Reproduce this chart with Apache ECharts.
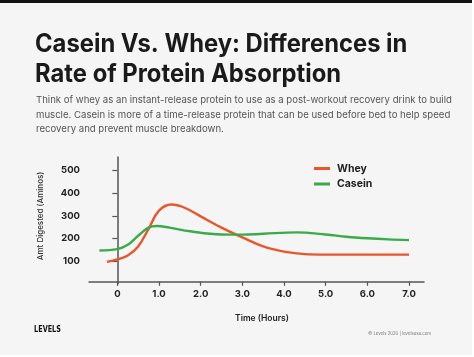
<!DOCTYPE html>
<html><head><meta charset="utf-8">
<script src="https://cdn.jsdelivr.net/npm/echarts@6/dist/echarts.min.js"></script>
<style>html,body{margin:0;padding:0;background:#fff}#c{width:474px;height:357px}</style>
</head><body><div id="c"></div>
<script>
const titleLines = ['Casein Vs. Whey: Differences in', 'Rate of Protein Absorption'];
const subtitleLines = [
  'Think of whey as an instant-release protein to use as a post-workout recovery drink to build',
  'muscle. Casein is more of a time-release protein that can be used before bed to help speed',
  'recovery and prevent muscle breakdown.'
];
const seriesNames = ['Whey', 'Casein'];
const wheyHours  = [-0.25, 0, 0.25, 0.5, 0.75, 1.0, 1.3, 1.6, 2.0, 2.5, 3.0, 3.5, 4.0, 4.5, 5.0, 6.0, 7.0];
const wheyValues = [97, 108, 125, 165, 243, 323, 350, 337, 298, 248, 205, 165, 142, 131, 129, 129, 129];
const caseinHours  = [-0.43, 0, 0.25, 0.5, 0.75, 0.95, 1.25, 1.75, 2.5, 3.0, 3.5, 4.3, 5.0, 5.5, 6.0, 6.5, 7.0];
const caseinValues = [147, 153, 172, 212, 248, 255, 248, 232, 218, 217, 221, 227, 218, 208, 201, 196, 193];
const xTicks = [0, 1, 2, 3, 4, 5, 6, 7];
const yTicks = [100, 200, 300, 400, 500];
const xAxisName = 'Time (Hours)';
const yAxisName = 'Amt Digested (Aminos)';
const footerText = '© Levels 2020 | levelsusa.com';
const logoText = 'LEVELS';

const pair = (xs, ys) => xs.map((x, i) => [x, ys[i]]);
const chart = echarts.init(document.getElementById('c'), null, {renderer: 'canvas'});
const F = 'Inter, "Noto Sans", sans-serif';
chart.setOption({
  backgroundColor: '#f5f5f5',
  animation: false,
  grid: {left: 89, right: 50, top: 157, bottom: 73.2, containLabel: false},
  xAxis: {
    type: 'value', min: -0.68, max: 7.36, offset: -2,
    splitLine: {show: false},
    axisLine: {lineStyle: {color: '#555', width: 1.5}},
    axisTick: {show: true, length: 4, lineStyle: {color: '#555', width: 1.2}, customValues: xTicks},
    axisLabel: {customValues: xTicks, color: '#222', fontWeight: 'bold', fontSize: 9.5, fontFamily: F, margin: 7,
      formatter: v => v === 0 ? '0' : v.toFixed(1)}
  },
  yAxis: {
    type: 'value', min: 0, max: 560,
    splitLine: {show: false},
    axisLine: {show: true, lineStyle: {color: '#555', width: 1.5}},
    axisTick: {show: true, length: 5, lineStyle: {color: '#555', width: 1.2}, customValues: yTicks},
    axisLabel: {customValues: yTicks, color: '#222', fontWeight: 'bold', fontSize: 9.5, fontFamily: F, margin: 9}
  },
  legend: {
    orient: 'vertical', left: 309, top: 158, itemWidth: 16, itemHeight: 3, itemGap: 4.5,
    icon: 'rect',
    textStyle: {color: '#222', fontWeight: 'bold', fontSize: 10.5, fontFamily: F, padding: [0, 0, 0, 2]},
    data: seriesNames
  },
  series: [
    {name: seriesNames[0], type: 'line', smooth: 0.4, showSymbol: false, data: pair(wheyHours, wheyValues),
      itemStyle: {color: '#e8562c'}, lineStyle: {color: '#e8562c', width: 2.4}},
    {name: seriesNames[1], type: 'line', smooth: 0.4, showSymbol: false, data: pair(caseinHours, caseinValues),
      itemStyle: {color: '#3bab4a'}, lineStyle: {color: '#3bab4a', width: 2.4}}
  ],
  graphic: [
    {type: 'rect', shape: {x: 0, y: 0, width: 474, height: 3}, style: {fill: '#111'}},
    {type: 'rect', shape: {x: 472, y: 0, width: 2, height: 357}, style: {fill: '#fff'}},
    {type: 'rect', shape: {x: 0, y: 355, width: 474, height: 2}, style: {fill: '#fff'}},
    {type: 'text', x: 35, y: 29, scaleX: 0.952, style: {text: titleLines.join('\n'), fill: '#1a1a1a', font: 'bold 25px ' + F, lineHeight: 30}},
    {type: 'text', left: 36, top: 93, style: {text: subtitleLines.join('\n'), fill: '#555', font: '9.6px ' + F, lineHeight: 14.5}},
    {type: 'text', x: 262, y: 318, style: {text: xAxisName, fill: '#222', font: '600 8.5px ' + F, align: 'center', verticalAlign: 'middle'}},
    {type: 'text', x: 41, y: 216, rotation: Math.PI / 2, style: {text: yAxisName, fill: '#333', font: '500 8px ' + F, align: 'center', verticalAlign: 'middle'}},
    {type: 'text', x: 431, y: 333.3, style: {text: footerText, fill: '#777', font: '4.3px ' + F, align: 'right', verticalAlign: 'middle'}},
    {type: 'text', x: 47.5, y: 330, scaleX: 0.72, style: {text: logoText, fill: '#111', font: '900 9px "DejaVu Sans"', align: 'center', verticalAlign: 'middle'}}
  ]
});
</script></body></html>
